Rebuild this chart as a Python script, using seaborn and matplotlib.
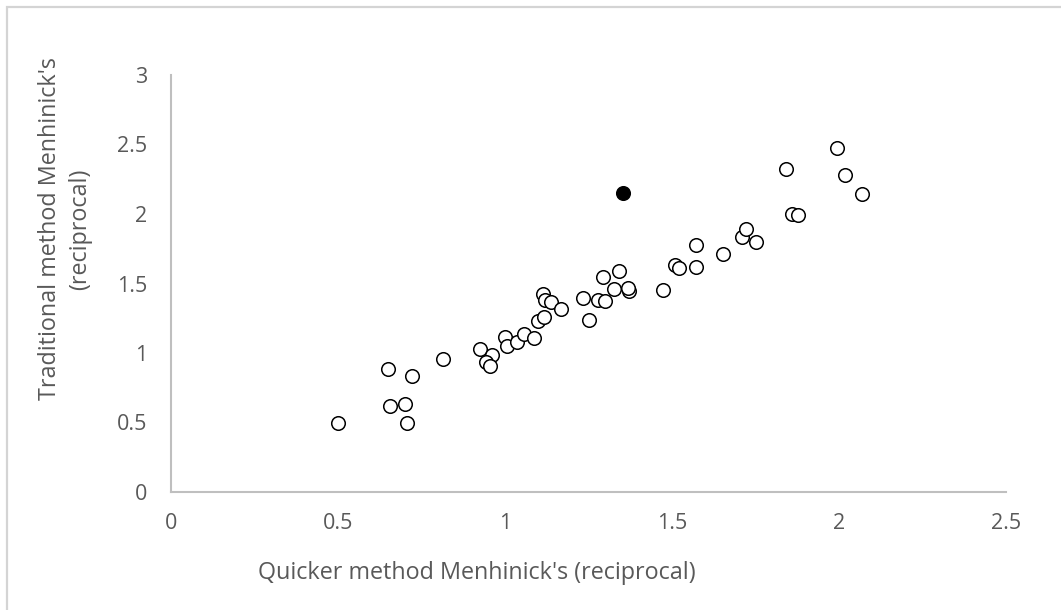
import matplotlib
matplotlib.use("Agg")
import matplotlib.pyplot as plt
import seaborn as sns
import pandas as pd
from matplotlib.patches import Rectangle

# Data
quick_x = [0.500, 0.650, 0.723, 0.655, 0.701, 0.707, 0.815, 0.924, 0.962, 0.943,
           0.955, 1.000, 1.007, 1.037, 1.058, 1.088, 1.098, 1.117, 1.113, 1.120,
           1.137, 1.167, 1.235, 1.251, 1.279, 1.298, 1.293, 1.341, 1.327, 1.370,
           1.369, 1.473, 1.509, 1.521, 1.571, 1.571, 1.653, 1.711, 1.722, 1.751,
           1.860, 1.878, 1.840, 1.995, 2.019, 2.070]
trad_y = [0.497, 0.883, 0.835, 0.621, 0.633, 0.499, 0.955, 1.027, 0.986, 0.938,
          0.906, 1.117, 1.053, 1.079, 1.137, 1.110, 1.230, 1.257, 1.422, 1.381,
          1.366, 1.313, 1.397, 1.236, 1.381, 1.376, 1.547, 1.590, 1.464, 1.448,
          1.470, 1.456, 1.633, 1.609, 1.619, 1.779, 1.714, 1.831, 1.890, 1.799,
          2.000, 1.995, 2.326, 2.473, 2.280, 2.145]
outlier_x = [1.354]
outlier_y = [2.149]

x_ticks = [0, 0.5, 1, 1.5, 2, 2.5]
x_tick_labels = ["0", "0.5", "1", "1.5", "2", "2.5"]
y_ticks = [0, 0.5, 1, 1.5, 2, 2.5, 3]
y_tick_labels = ["0", "0.5", "1", "1.5", "2", "2.5", "3"]

sns.set_theme(style="white")
plt.rcParams['font.family'] = ['Open Sans', 'DejaVu Sans']

W, H = 1061, 610
fig = plt.figure(figsize=(W / 100, H / 100), dpi=100)
ax = fig.add_axes([171 / W, (H - 492) / H, 835 / W, 417 / H])

main_df = pd.DataFrame({"x": quick_x, "y": trad_y})
out_df = pd.DataFrame({"x": outlier_x, "y": outlier_y})

sns.scatterplot(data=main_df, x="x", y="y", ax=ax, s=95, facecolor="white",
                edgecolor="black", linewidth=1.1, zorder=3)
sns.scatterplot(data=out_df, x="x", y="y", ax=ax, s=95, color="black",
                edgecolor="black", linewidth=1.1, zorder=4)

ax.set_xlim(0, 2.5)
ax.set_ylim(0, 3)
ax.set_xticks(x_ticks)
ax.set_xticklabels(x_tick_labels)
ax.set_yticks(y_ticks)
ax.set_yticklabels(y_tick_labels)
ax.set_xlabel("")
ax.set_ylabel("")
ax.tick_params(axis="both", length=0, labelsize=15.5, labelcolor="#595959")
ax.tick_params(axis="x", pad=15)
ax.tick_params(axis="y", pad=17)

for side in ["top", "right"]:
    ax.spines[side].set_visible(False)
for side in ["left", "bottom"]:
    ax.spines[side].set_color("#BFBFBF")
    ax.spines[side].set_linewidth(1.5)
ax.grid(False)

fig.text(477 / W, (H - 573) / H, "Quicker method Menhinick's (reciprocal)",
         ha="center", va="center", fontsize=16.8, color="#595959")
fig.text(65 / W, (H - 229) / H, "Traditional method Menhinick's\n(reciprocal)",
         ha="center", va="center", rotation=90, fontsize=16.8, color="#595959",
         multialignment="center", linespacing=1.3)

# outer chart border (clipped on the right and bottom as in the reference)
fig.patches.append(Rectangle((7 / W, -0.1), 1.2, (H - 7) / H + 0.1,
                             transform=fig.transFigure, fill=False,
                             edgecolor="#D4D4D4", linewidth=1.6, zorder=0))

fig.savefig("out.png", dpi=100)
